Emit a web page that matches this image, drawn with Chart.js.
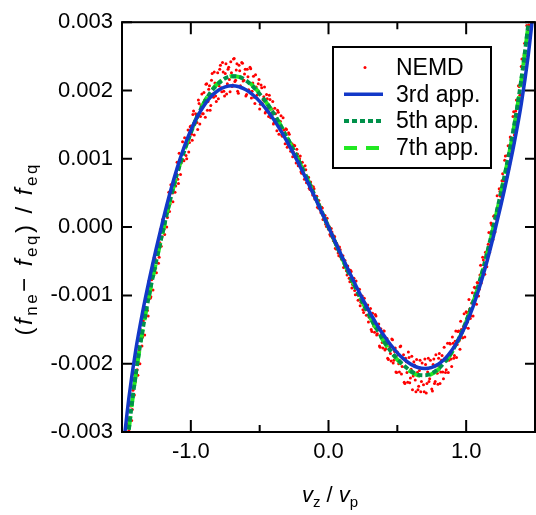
<!DOCTYPE html>
<html><head><meta charset="utf-8">
<script src="https://cdn.jsdelivr.net/npm/chart.js@4.4.0/dist/chart.umd.min.js"></script>
<style>html,body{margin:0;padding:0;background:#fff;overflow:hidden}#wrap{width:536px;height:515px;overflow:hidden;position:relative;background:#fff}canvas{display:block}</style>
</head><body><div id="wrap"><canvas id="c" width="539" height="515"></canvas></div>
<script>
const X_TICKS = [-1, 0, 1];
const X_TICK_LABELS = ['-1.0', '0.0', '1.0'];
const X_MINOR = [-0.5, 0.5];
const Y_TICKS = [-0.003, -0.002, -0.001, 0, 0.001, 0.002, 0.003];
const Y_TICK_LABELS = ['-0.003', '-0.002', '-0.001', '0.000', '0.001', '0.002', '0.003'];
const SERIES_LABELS = ['NEMD', '3rd app.', '5th app.', '7th app.'];

const NEMD_X = [-1.50,-1.49,-1.48,-1.47,-1.46,-1.45,-1.44,-1.43,-1.42,-1.41,-1.40,-1.39,-1.38,-1.37,-1.36,-1.35,-1.34,-1.33,-1.32,-1.31,-1.30,-1.29,-1.28,-1.27,-1.26,-1.25,-1.24,-1.23,-1.22,-1.21,-1.20,-1.19,-1.18,-1.17,-1.16,-1.15,-1.14,-1.13,-1.12,-1.11,-1.10,-1.09,-1.08,-1.07,-1.06,-1.05,-1.04,-1.03,-1.02,-1.01,-1.00,-0.99,-0.98,-0.97,-0.96,-0.95,-0.94,-0.93,-0.92,-0.91,-0.90,-0.89,-0.88,-0.87,-0.86,-0.85,-0.84,-0.83,-0.82,-0.81,-0.80,-0.79,-0.78,-0.77,-0.76,-0.75,-0.74,-0.73,-0.72,-0.71,-0.70,-0.69,-0.68,-0.67,-0.66,-0.65,-0.64,-0.63,-0.62,-0.61,-0.60,-0.59,-0.58,-0.57,-0.56,-0.55,-0.54,-0.53,-0.52,-0.51,-0.50,-0.49,-0.48,-0.47,-0.46,-0.45,-0.44,-0.43,-0.42,-0.41,-0.40,-0.39,-0.38,-0.37,-0.36,-0.35,-0.34,-0.33,-0.32,-0.31,-0.30,-0.29,-0.28,-0.27,-0.26,-0.25,-0.24,-0.23,-0.22,-0.21,-0.20,-0.19,-0.18,-0.17,-0.16,-0.15,-0.14,-0.13,-0.12,-0.11,-0.10,-0.09,-0.08,-0.07,-0.06,-0.05,-0.04,-0.03,-0.02,-0.01,0.00,0.01,0.02,0.03,0.04,0.05,0.06,0.07,0.08,0.09,0.10,0.11,0.12,0.13,0.14,0.15,0.16,0.17,0.18,0.19,0.20,0.21,0.22,0.23,0.24,0.25,0.26,0.27,0.28,0.29,0.30,0.31,0.32,0.33,0.34,0.35,0.36,0.37,0.38,0.39,0.40,0.41,0.42,0.43,0.44,0.45,0.46,0.47,0.48,0.49,0.50,0.51,0.52,0.53,0.54,0.55,0.56,0.57,0.58,0.59,0.60,0.61,0.62,0.63,0.64,0.65,0.66,0.67,0.68,0.69,0.70,0.71,0.72,0.73,0.74,0.75,0.76,0.77,0.78,0.79,0.80,0.81,0.82,0.83,0.84,0.85,0.86,0.87,0.88,0.89,0.90,0.91,0.92,0.93,0.94,0.95,0.96,0.97,0.98,0.99,1.00,1.01,1.02,1.03,1.04,1.05,1.06,1.07,1.08,1.09,1.10,1.11,1.12,1.13,1.14,1.15,1.16,1.17,1.18,1.19,1.20,1.21,1.22,1.23,1.24,1.25,1.26,1.27,1.28,1.29,1.30,1.31,1.32,1.33,1.34,1.35,1.36,1.37,1.38,1.39,1.40,1.41,1.42,1.43,1.44,1.45,1.46,1.47,1.48,1.49,1.50];
const NEMD_Y = [-0.00375,-0.00393,-0.00347,-0.00343,-0.00289,-0.00298,-0.00261,-0.00283,-0.00239,-0.00246,-0.00193,-0.00209,-0.00175,-0.00200,-0.00159,-0.00161,-0.00119,-0.00133,-0.00107,-0.00130,-0.00090,-0.00102,-0.00054,-0.00071,-0.00046,-0.00067,-0.00030,-0.00044,-0.00003,-0.00014,0.00008,-0.00011,0.00019,0.00014,0.00051,0.00034,0.00061,0.00037,0.00065,0.00060,0.00095,0.00064,0.00098,0.00094,0.00125,0.00097,0.00120,0.00100,0.00142,0.00124,0.00148,0.00127,0.00170,0.00151,0.00164,0.00143,0.00181,0.00162,0.00195,0.00166,0.00186,0.00209,0.00171,0.00202,0.00171,0.00215,0.00195,0.00227,0.00192,0.00210,0.00188,0.00231,0.00204,0.00241,0.00199,0.00225,0.00195,0.00231,0.00216,0.00242,0.00206,0.00246,0.00213,0.00230,0.00199,0.00237,0.00207,0.00241,0.00214,0.00224,0.00192,0.00231,0.00201,0.00234,0.00189,0.00211,0.00190,0.00223,0.00193,0.00210,0.00173,0.00208,0.00181,0.00191,0.00167,0.00194,0.00174,0.00193,0.00160,0.00173,0.00151,0.00174,0.00158,0.00171,0.00136,0.00155,0.00135,0.00160,0.00134,0.00144,0.00117,0.00138,0.00117,0.00121,0.00103,0.00120,0.00104,0.00114,0.00090,0.00100,0.00081,0.00095,0.00078,0.00090,0.00065,0.00072,0.00057,0.00066,0.00053,0.00059,0.00041,0.00045,0.00029,0.00039,0.00025,0.00029,0.00011,0.00016,0.00004,0.00013,-0.00003,-0.00011,-0.00002,-0.00016,-0.00013,-0.00031,-0.00024,-0.00038,-0.00029,-0.00044,-0.00044,-0.00059,-0.00049,-0.00064,-0.00057,-0.00075,-0.00063,-0.00089,-0.00079,-0.00093,-0.00079,-0.00099,-0.00091,-0.00115,-0.00102,-0.00121,-0.00104,-0.00121,-0.00117,-0.00139,-0.00127,-0.00150,-0.00126,-0.00145,-0.00128,-0.00158,-0.00147,-0.00174,-0.00149,-0.00169,-0.00152,-0.00180,-0.00170,-0.00192,-0.00170,-0.00185,-0.00164,-0.00199,-0.00182,-0.00212,-0.00183,-0.00200,-0.00175,-0.00215,-0.00192,-0.00227,-0.00192,-0.00213,-0.00183,-0.00228,-0.00208,-0.00238,-0.00197,-0.00224,-0.00194,-0.00238,-0.00210,-0.00241,-0.00199,-0.00231,-0.00193,-0.00243,-0.00212,-0.00226,-0.00195,-0.00237,-0.00201,-0.00229,-0.00187,-0.00214,-0.00192,-0.00229,-0.00195,-0.00212,-0.00176,-0.00213,-0.00190,-0.00213,-0.00170,-0.00193,-0.00161,-0.00192,-0.00167,-0.00191,-0.00153,-0.00166,-0.00138,-0.00162,-0.00146,-0.00161,-0.00124,-0.00139,-0.00106,-0.00134,-0.00111,-0.00130,-0.00088,-0.00099,-0.00081,-0.00101,-0.00070,-0.00082,-0.00044,-0.00060,-0.00037,-0.00058,-0.00025,-0.00037,0.00006,-0.00014,0.00016,-0.00007,0.00025,0.00021,0.00056,0.00045,0.00068,0.00051,0.00098,0.00081,0.00105,0.00085,0.00132,0.00122,0.00162,0.00135,0.00170,0.00152,0.00207,0.00193,0.00235,0.00218,0.00252,0.00242,0.00295,0.00287,0.00336,0.00323,0.00356,0.00353,0.00402];
const NEMD_X2 = [-1.495,-1.485,-1.475,-1.465,-1.455,-1.445,-1.435,-1.425,-1.415,-1.405,-1.395,-1.385,-1.375,-1.365,-1.355,-1.345,-1.335,-1.325,-1.315,-1.305,-1.295,-1.285,-1.275,-1.265,-1.255,-1.245,-1.235,-1.225,-1.215,-1.205,-1.195,-1.185,-1.175,-1.165,-1.155,-1.145,-1.135,-1.125,-1.115,-1.105,-1.095,-1.085,-1.075,-1.065,-1.055,-1.045,-1.035,-1.025,-1.015,-1.005,-0.995,-0.985,-0.975,-0.965,-0.955,-0.945,-0.935,-0.925,-0.915,-0.905,-0.895,-0.885,-0.875,-0.865,-0.855,-0.845,-0.835,-0.825,-0.815,-0.805,-0.795,-0.785,-0.775,-0.765,-0.755,-0.745,-0.735,-0.725,-0.715,-0.705,-0.695,-0.685,-0.675,-0.665,-0.655,-0.645,-0.635,-0.625,-0.615,-0.605,-0.595,-0.585,-0.575,-0.565,-0.555,-0.545,-0.535,-0.525,-0.515,-0.505,-0.495,-0.485,-0.475,-0.465,-0.455,-0.445,-0.435,-0.425,-0.415,-0.405,-0.395,-0.385,-0.375,-0.365,-0.355,-0.345,-0.335,-0.325,-0.315,-0.305,-0.295,-0.285,-0.275,-0.265,-0.255,-0.245,-0.235,-0.225,-0.215,-0.205,-0.195,-0.185,-0.175,-0.165,-0.155,-0.145,-0.135,-0.125,-0.115,-0.105,-0.095,-0.085,-0.075,-0.065,-0.055,-0.045,-0.035,-0.025,-0.015,-0.005,0.005,0.015,0.025,0.035,0.045,0.055,0.065,0.075,0.085,0.095,0.105,0.115,0.125,0.135,0.145,0.155,0.165,0.175,0.185,0.195,0.205,0.215,0.225,0.235,0.245,0.255,0.265,0.275,0.285,0.295,0.305,0.315,0.325,0.335,0.345,0.355,0.365,0.375,0.385,0.395,0.405,0.415,0.425,0.435,0.445,0.455,0.465,0.475,0.485,0.495,0.505,0.515,0.525,0.535,0.545,0.555,0.565,0.575,0.585,0.595,0.605,0.615,0.625,0.635,0.645,0.655,0.665,0.675,0.685,0.695,0.705,0.715,0.725,0.735,0.745,0.755,0.765,0.775,0.785,0.795,0.805,0.815,0.825,0.835,0.845,0.855,0.865,0.875,0.885,0.895,0.905,0.915,0.925,0.935,0.945,0.955,0.965,0.975,0.985,0.995,1.005,1.015,1.025,1.035,1.045,1.055,1.065,1.075,1.085,1.095,1.105,1.115,1.125,1.135,1.145,1.155,1.165,1.175,1.185,1.195,1.205,1.215,1.225,1.235,1.245,1.255,1.265,1.275,1.285,1.295,1.305,1.315,1.325,1.335,1.345,1.355,1.365,1.375,1.385,1.395,1.405,1.415,1.425,1.435,1.445,1.455,1.465,1.475,1.485,1.495];
const NEMD_Y2 = [-0.00371,-0.00377,-0.00321,-0.00330,-0.00288,-0.00310,-0.00262,-0.00267,-0.00215,-0.00227,-0.00196,-0.00217,-0.00181,-0.00150,-0.00174,-0.00137,-0.00158,-0.00107,-0.00122,-0.00079,-0.00104,-0.00077,-0.00092,-0.00044,-0.00060,-0.00029,-0.00053,-0.00023,-0.00028,0.00011,-0.00003,0.00022,0.00000,0.00034,0.00023,0.00062,0.00050,0.00069,0.00051,0.00078,0.00070,0.00108,0.00077,0.00107,0.00098,0.00131,0.00105,0.00127,0.00110,0.00147,0.00136,0.00165,0.00135,0.00166,0.00153,0.00186,0.00151,0.00178,0.00166,0.00197,0.00161,0.00210,0.00184,0.00207,0.00178,0.00225,0.00190,0.00211,0.00184,0.00226,0.00207,0.00237,0.00198,0.00227,0.00192,0.00239,0.00210,0.00234,0.00198,0.00226,0.00208,0.00247,0.00215,0.00239,0.00196,0.00229,0.00204,0.00240,0.00215,0.00231,0.00194,0.00220,0.00199,0.00232,0.00199,0.00221,0.00181,0.00205,0.00188,0.00216,0.00180,0.00204,0.00186,0.00205,0.00169,0.00188,0.00162,0.00187,0.00166,0.00184,0.00153,0.00166,0.00141,0.00168,0.00146,0.00163,0.00133,0.00142,0.00122,0.00143,0.00121,0.00136,0.00111,0.00122,0.00110,0.00119,0.00094,0.00107,0.00094,0.00104,0.00079,0.00088,0.00070,0.00084,0.00066,0.00073,0.00055,0.00061,0.00047,0.00056,0.00042,0.00045,0.00028,0.00033,0.00021,0.00028,0.00012,0.00017,0.00001,0.00005,0.00001,-0.00013,-0.00007,-0.00020,-0.00014,-0.00032,-0.00027,-0.00042,-0.00033,-0.00047,-0.00042,-0.00058,-0.00055,-0.00070,-0.00062,-0.00080,-0.00065,-0.00084,-0.00075,-0.00099,-0.00090,-0.00107,-0.00091,-0.00110,-0.00101,-0.00125,-0.00111,-0.00129,-0.00114,-0.00132,-0.00119,-0.00153,-0.00134,-0.00154,-0.00130,-0.00156,-0.00142,-0.00176,-0.00157,-0.00177,-0.00152,-0.00178,-0.00163,-0.00194,-0.00175,-0.00196,-0.00165,-0.00195,-0.00177,-0.00213,-0.00187,-0.00212,-0.00174,-0.00204,-0.00187,-0.00229,-0.00197,-0.00227,-0.00191,-0.00221,-0.00189,-0.00218,-0.00202,-0.00241,-0.00213,-0.00233,-0.00195,-0.00226,-0.00207,-0.00241,-0.00201,-0.00229,-0.00192,-0.00222,-0.00206,-0.00240,-0.00193,-0.00226,-0.00203,-0.00230,-0.00185,-0.00212,-0.00188,-0.00222,-0.00192,-0.00209,-0.00170,-0.00195,-0.00171,-0.00204,-0.00170,-0.00188,-0.00152,-0.00172,-0.00152,-0.00179,-0.00150,-0.00162,-0.00127,-0.00147,-0.00125,-0.00148,-0.00120,-0.00130,-0.00096,-0.00112,-0.00089,-0.00113,-0.00082,-0.00091,-0.00056,-0.00073,-0.00048,-0.00069,-0.00040,-0.00048,-0.00008,-0.00026,0.00003,-0.00018,0.00017,0.00012,0.00046,0.00023,0.00052,0.00035,0.00078,0.00068,0.00104,0.00081,0.00119,0.00092,0.00129,0.00120,0.00169,0.00149,0.00186,0.00161,0.00206,0.00194,0.00246,0.00232,0.00269,0.00251,0.00305,0.00296,0.00344,0.00330,0.00370,0.00366];

const CURVE_X = [-1.50,-1.45,-1.40,-1.35,-1.30,-1.25,-1.20,-1.15,-1.10,-1.05,-1.00,-0.95,-0.90,-0.85,-0.80,-0.75,-0.70,-0.65,-0.60,-0.55,-0.50,-0.45,-0.40,-0.35,-0.30,-0.25,-0.20,-0.15,-0.10,-0.05,0.00,0.05,0.10,0.15,0.20,0.25,0.30,0.35,0.40,0.45,0.50,0.55,0.60,0.65,0.70,0.75,0.80,0.85,0.90,0.95,1.00,1.05,1.10,1.15,1.20,1.25,1.30,1.35,1.40,1.45,1.50];
const APP3 = [-0.00340,-0.00250,-0.00180,-0.00124,-0.00075,-0.00030,0.00012,0.00051,0.00086,0.001165,0.001419,0.001628,0.001793,0.001918,0.002004,0.002054,0.002070,0.002055,0.002010,0.001938,0.001841,0.001721,0.001581,0.001423,0.001249,0.001062,0.000863,0.000655,0.000441,0.000221,0,-0.000221,-0.000441,-0.000655,-0.000863,-0.001062,-0.001249,-0.001423,-0.001581,-0.001721,-0.001841,-0.001938,-0.002010,-0.002055,-0.002070,-0.002054,-0.002004,-0.001918,-0.001793,-0.001628,-0.001419,-0.001165,-0.00086,-0.00051,-0.00012,0.00030,0.00075,0.00124,0.00180,0.00250,0.00340];
const APP5 = [-0.00390,-0.00295,-0.00215,-0.00150,-0.00096,-0.00048,-0.00003,0.00040,0.00078,0.00110,0.00138,0.00163,0.00183,0.00199,0.00210,0.00218,0.00221,0.00220,0.00215,0.00206,0.00195,0.00182,0.00167,0.00149,0.00131,0.001115,0.000905,0.00069,0.00046,0.00023,0,-0.00023,-0.00046,-0.00069,-0.000905,-0.001115,-0.00131,-0.00149,-0.00166,-0.00181,-0.00193,-0.00203,-0.00211,-0.00216,-0.00217,-0.00214,-0.00207,-0.00196,-0.00181,-0.00162,-0.00138,-0.00110,-0.00078,-0.00040,0.00003,0.00048,0.00096,0.00150,0.00215,0.00295,0.00390];
const APP7 = [-0.00392,-0.00296,-0.00216,-0.00151,-0.00097,-0.00049,-0.00004,0.00040,0.00078,0.00111,0.00139,0.00164,0.00184,0.00200,0.00211,0.00218,0.00221,0.00220,0.00215,0.00207,0.00196,0.00182,0.00167,0.00150,0.00131,0.00111,0.00090,0.00069,0.00046,0.00023,0,-0.00023,-0.00046,-0.00069,-0.00090,-0.00111,-0.00131,-0.00150,-0.00167,-0.00182,-0.00194,-0.00204,-0.00212,-0.00217,-0.00218,-0.00215,-0.00208,-0.00197,-0.00182,-0.00163,-0.00139,-0.00111,-0.00079,-0.00041,0.00002,0.00047,0.00095,0.00149,0.00214,0.00294,0.00390];

const FONT = "'Liberation Sans', Arial, sans-serif";
const pts = (xs, ys) => xs.map((x, i) => ({x: x, y: ys[i]}));
const near = (a, b) => Math.abs(a - b) < 1e-9;

// draws rich text (italic / subscript runs), centred on cx, with optional extra spacing between glyphs
function drawRuns(ctx, runs, cx, baseline, size, subSize, spacing) {
  const fontOf = r => (r.it ? 'italic ' : '') + (r.sub ? subSize : size) + 'px ' + FONT;
  const glyphs = [];
  runs.forEach(r => { for (const ch of r.t) glyphs.push({ch: ch, r: r}); });
  let w = 0;
  glyphs.forEach((g, i) => { ctx.font = fontOf(g.r); g.w = ctx.measureText(g.ch).width; w += g.w + (i < glyphs.length - 1 ? spacing : 0); });
  let x = cx - w / 2;
  ctx.textAlign = 'left'; ctx.textBaseline = 'alphabetic'; ctx.fillStyle = '#000';
  glyphs.forEach(g => { ctx.font = fontOf(g.r); ctx.fillText(g.ch, x, baseline + (g.r.sub ? 5 : 0)); x += g.w + spacing; });
}

const decor = {
  id: 'decor',
  afterDatasetsDraw(chart) {
    const {ctx, chartArea: a, scales: {x, y}} = chart;
    ctx.save();
    ctx.strokeStyle = '#000'; ctx.lineWidth = 2; ctx.setLineDash([]);
    ctx.strokeRect(a.left, a.top, a.right - a.left, a.bottom - a.top);
    ctx.beginPath();
    Y_TICKS.forEach(v => { const p = y.getPixelForValue(v);
      ctx.moveTo(a.left, p); ctx.lineTo(a.left + 10, p);
      ctx.moveTo(a.right, p); ctx.lineTo(a.right - 10, p); });
    X_TICKS.forEach(v => { const p = x.getPixelForValue(v);
      ctx.moveTo(p, a.bottom); ctx.lineTo(p, a.bottom - 12);
      ctx.moveTo(p, a.top); ctx.lineTo(p, a.top + 12); });
    X_MINOR.forEach(v => { const p = x.getPixelForValue(v);
      ctx.moveTo(p, a.bottom); ctx.lineTo(p, a.bottom - 7);
      ctx.moveTo(p, a.top); ctx.lineTo(p, a.top + 7); });
    ctx.stroke();

    // legend (one entry per series label)
    const L = {x: 333, y: 47, w: 158, h: 121};
    ctx.fillStyle = '#fff'; ctx.fillRect(L.x, L.y, L.w, L.h);
    ctx.strokeRect(L.x, L.y, L.w, L.h);
    const seen = {};
    let i = 0;
    chart.data.datasets.forEach(ds => {
      if (seen[ds.label]) return; seen[ds.label] = true;
      const cy = L.y + 20.5 + i * 26.8; i++;
      if (ds.showLine) {
        ctx.save();
        ctx.strokeStyle = ds.borderColor; ctx.lineWidth = ds.borderWidth;
        ctx.setLineDash(ds.borderDash || []);
        ctx.beginPath(); ctx.moveTo(L.x + 11, cy); ctx.lineTo(L.x + 50, cy); ctx.stroke();
        ctx.restore();
      } else {
        ctx.fillStyle = ds.backgroundColor;
        ctx.beginPath(); ctx.arc(L.x + 32, cy, ds.pointRadius, 0, Math.PI * 2); ctx.fill();
      }
      ctx.fillStyle = '#000'; ctx.font = '23px ' + FONT;
      ctx.textAlign = 'left'; ctx.textBaseline = 'middle';
      ctx.fillText(ds.label, L.x + 63, cy + 1);
    });

    // axis titles
    drawRuns(ctx, [{t: 'v', it: true}, {t: 'z', sub: true}, {t: ' / '}, {t: 'v', it: true}, {t: 'p', sub: true}], 330, 502, 22, 15, 0);
    ctx.save();
    ctx.translate(32, 250); ctx.rotate(-Math.PI / 2);
    drawRuns(ctx, [{t: '('}, {t: 'f', it: true}, {t: 'ne', sub: true}, {t: '\u2212 '}, {t: 'f', it: true}, {t: 'eq', sub: true}, {t: ') / '}, {t: 'f', it: true}, {t: 'eq', sub: true}], 0, 0, 24, 17, 2.5);
    ctx.restore();
    ctx.restore();
  }
};

const nemdStyle = {showLine: false, pointRadius: 1.5, pointBorderWidth: 0, backgroundColor: '#ff0000', borderColor: '#ff0000', order: 4, clip: 0};
new Chart(document.getElementById('c'), {
  type: 'scatter',
  data: {
    datasets: [
      Object.assign({label: SERIES_LABELS[0], data: pts(NEMD_X, NEMD_Y)}, nemdStyle),
      {label: SERIES_LABELS[1], data: pts(CURVE_X, APP3), showLine: true, pointRadius: 0, borderColor: '#1238c8', backgroundColor: '#1238c8', borderWidth: 3.5, cubicInterpolationMode: 'monotone', order: 1, clip: 0},
      {label: SERIES_LABELS[2], data: pts(CURVE_X, APP5), showLine: true, pointRadius: 0, borderColor: '#00914a', backgroundColor: '#00914a', borderWidth: 4, borderDash: [5, 3], cubicInterpolationMode: 'monotone', order: 2, clip: 0},
      {label: SERIES_LABELS[3], data: pts(CURVE_X, APP7), showLine: true, pointRadius: 0, borderColor: '#22e822', backgroundColor: '#22e822', borderWidth: 4, borderDash: [13, 9], cubicInterpolationMode: 'monotone', order: 3, clip: 0},
      Object.assign({label: SERIES_LABELS[0], data: pts(NEMD_X2, NEMD_Y2)}, nemdStyle)
    ]
  },
  options: {
    responsive: false, animation: false, devicePixelRatio: 1,
    layout: {padding: {left: 0, top: 15, right: 1, bottom: 0}},
    plugins: {legend: {display: false}, tooltip: {enabled: false}},
    scales: {
      x: {
        type: 'linear', min: -1.5, max: 1.5,
        grid: {display: false, drawTicks: false}, border: {display: false},
        afterBuildTicks: s => { s.ticks = X_TICKS.map(v => ({value: v})); },
        afterFit: s => { s.height = 83; },
        ticks: {autoSkip: false, maxRotation: 0, padding: 7, color: '#000', font: {family: FONT, size: 22},
          callback: v => { const i = X_TICKS.findIndex(t => near(t, v)); return i < 0 ? '' : X_TICK_LABELS[i]; }}
      },
      y: {
        type: 'linear', min: -0.003, max: 0.003,
        grid: {display: false, drawTicks: false}, border: {display: false},
        afterBuildTicks: s => { s.ticks = Y_TICKS.map(v => ({value: v})); },
        afterFit: s => { s.width = 122; },
        ticks: {autoSkip: false, padding: 9, color: '#000', font: {family: FONT, size: 22},
          callback: v => { const i = Y_TICKS.findIndex(t => near(t, v)); return i < 0 ? '' : Y_TICK_LABELS[i]; }}
      }
    }
  },
  plugins: [decor]
});
</script>
</body></html>
